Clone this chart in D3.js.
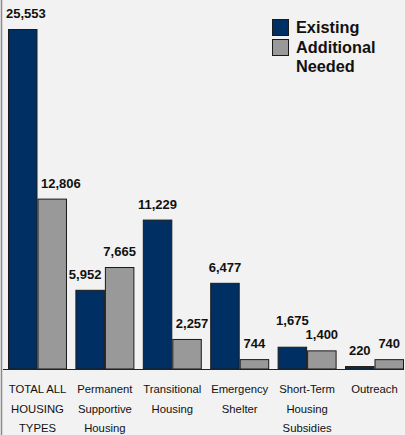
<!DOCTYPE html>
<html>
<head>
<meta charset="utf-8">
<script src="https://cdn.jsdelivr.net/npm/d3@7"></script>
<style>
  html, body { margin: 0; padding: 0; background: #f2f2f2; }
  svg { display: block; }
</style>
</head>
<body>
<svg id="chart" width="405" height="435"></svg>
<script>
// Housing inventory: existing units vs additional units needed
const categories = [
  ["TOTAL ALL", "HOUSING", "TYPES"],
  ["Permanent", "Supportive", "Housing"],
  ["Transitional", "Housing"],
  ["Emergency", "Shelter"],
  ["Short-Term", "Housing", "Subsidies"],
  ["Outreach"]
];
const existing = [25553, 5952, 11229, 6477, 1675, 220];
const additionalNeeded = [12806, 7665, 2257, 744, 1400, 740];
const seriesNames = ["Existing", "Additional Needed"];
const seriesColors = ["#003063", "#999999"];

const W = 405, H = 435;
const baseY = 369, topY = 29;
const svg = d3.select("#chart");

svg.append("rect").attr("width", W).attr("height", H).attr("fill", "#f2f2f2");

const keys = categories.map((c, i) => i);
const x0 = d3.scaleBand().domain(keys).range([8, 404]).paddingInner(0.125).paddingOuter(0);
const x1 = d3.scaleBand().domain([0, 1]).range([0, x0.bandwidth()]).padding(0);
const y = d3.scaleLinear().domain([0, 25553]).range([baseY, topY]);

const rows = keys.map(i => [existing[i], additionalNeeded[i]]);

// left frame line
svg.append("line").attr("x1", 1.5).attr("x2", 1.5).attr("y1", 0).attr("y2", H)
  .attr("stroke", "#8a8a8a").attr("stroke-width", 1.5);

// bars
const groups = svg.selectAll("g.grp").data(rows).join("g")
  .attr("class", "grp")
  .attr("transform", (d, i) => `translate(${x0(i)},0)`);

groups.selectAll("rect").data(d => d).join("rect")
  .attr("x", (d, j) => x1(j) + 0.5)
  .attr("y", d => y(d) + 0.5)
  .attr("width", x1.bandwidth() - 1)
  .attr("height", d => Math.max(0, baseY - y(d) - 0.5))
  .attr("fill", (d, j) => seriesColors[j])
  .attr("stroke", "#1a1a1a")
  .attr("stroke-width", 1);

// baseline
svg.append("line").attr("x1", 3).attr("x2", 404).attr("y1", baseY + 0.5).attr("y2", baseY + 0.5)
  .attr("stroke", "#222").attr("stroke-width", 1.2);

// value labels: slide a label sideways off a taller neighbouring bar,
// keep it clear of the frame, then lift it when it collides with its pair
const fmt = d3.format(",");
const labelG = svg.append("g")
  .attr("font-family", "'Liberation Sans', Arial, sans-serif")
  .attr("font-weight", "bold").attr("font-size", 13).attr("fill", "#111")
  .attr("text-anchor", "middle");

const gap = 3.5, minLeft = 6;
rows.forEach((pair, i) => {
  const texts = pair.map((v, j) => labelG.append("text")
    .attr("x", x0(i) + x1(j) + x1.bandwidth() / 2)
    .attr("y", y(v) - 11)
    .text(fmt(v)));
  pair.forEach((v, j) => {
    const k = 1 - j;
    let b = texts[j].node().getBBox();
    if (b.x < minLeft) texts[j].attr("x", +texts[j].attr("x") + (minLeft - b.x));
    if (pair[k] <= v) return;
    b = texts[j].node().getBBox();
    const cx = +texts[j].attr("x");
    if (y(pair[k]) < b.y + b.height) {
      if (k > j) {
        const edge = x0(i) + x1(k);
        if (b.x + b.width > edge - gap) texts[j].attr("x", cx - (b.x + b.width - edge + gap));
      } else {
        const edge = x0(i) + x1(j);
        if (b.x < edge + gap) texts[j].attr("x", cx + (edge + gap - b.x));
      }
    }
  });
  const b0 = texts[0].node().getBBox(), b1 = texts[1].node().getBBox();
  const hOverlap = b0.x + b0.width > b1.x && b1.x + b1.width > b0.x;
  const vOverlap = b0.y + b0.height > b1.y && b1.y + b1.height > b0.y;
  if (hOverlap && vOverlap) {
    const hi = pair[0] >= pair[1] ? 0 : 1, lo = 1 - hi;
    texts[hi].attr("y", +texts[lo].attr("y") - 14);
  }
});

// category labels
const catG = svg.append("g")
  .attr("font-family", "'Liberation Sans', Arial, sans-serif")
  .attr("font-size", 11.3).attr("fill", "#111").attr("text-anchor", "middle");
categories.forEach((lines, i) => {
  const t = catG.append("text").attr("x", x0(i) + x0.bandwidth() / 2).attr("y", 393);
  lines.forEach((ln, k) => t.append("tspan")
    .attr("x", x0(i) + x0.bandwidth() / 2)
    .attr("y", 393 + k * 19.5)
    .text(ln));
});

// legend
const leg = svg.append("g").attr("transform", "translate(272,19)");
const legLines = [["Existing"], ["Additional", "Needed"]];
seriesNames.forEach((name, j) => {
  leg.append("rect").attr("x", 0.5).attr("y", j * 20 + 0.5).attr("width", 16).attr("height", 16)
    .attr("fill", seriesColors[j]).attr("stroke", "#1a1a1a").attr("stroke-width", 1);
  legLines[j].forEach((ln, k) => leg.append("text")
    .attr("x", 24).attr("y", 14 + j * 20 + k * 19)
    .attr("font-family", "'Liberation Sans', Arial, sans-serif")
    .attr("font-weight", "bold").attr("font-size", 16.3).attr("fill", "#111")
    .text(ln));
});
</script>
</body>
</html>
